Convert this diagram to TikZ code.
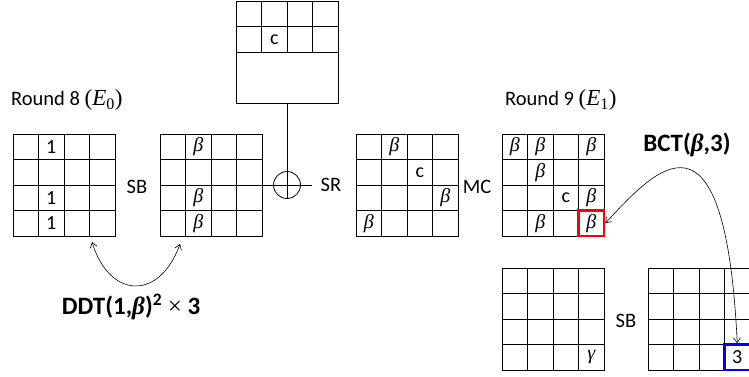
\documentclass[tikz,border=0pt]{standalone}
\usepackage{fontspec}
\setmainfont{Carlito}
\newfontfamily\grk{Liberation Serif}
\usetikzlibrary{calc,arrows.meta}
\newcommand\bet{{\grk\itshape β}}
\newcommand\rlab[1]{{\grk(\itshape E\/\upshape\textsubscript{#1})}}
\tikzset{
  gridbox/.style={draw,line width=1pt,minimum width=102pt,minimum height=102pt,inner sep=0pt,outer sep=0pt},
  gridline/.style={line width=1pt},
  celltext/.style={inner sep=0pt,font=\fontsize{20}{22}\selectfont},
  lbl/.style={inner sep=0pt,font=\fontsize{20.5}{23}\selectfont},
  biglbl/.style={inner sep=0pt,font=\fontsize{25}{28}\selectfont\bfseries},
  conn/.style={line width=0.6pt,{Straight Barb[length=5pt,width=7pt]}-{Straight Barb[length=5pt,width=7pt]}},
  hilite/.style={line width=2.5pt,minimum width=25.5pt,minimum height=25.5pt,inner sep=0pt,font=\fontsize{20}{22}\selectfont}
}
\newcommand\mygrid[3]{%
  \node[gridbox,anchor=north west] (#1) at (#2,#3) {};
  \foreach \k in {1,2,3}{%
    \draw[gridline] ($(#1.north west)+(\k*25.5,0)$) -- ++(0,102);
    \draw[gridline] ($(#1.north west)+(0,\k*25.5)$) -- ++(102,0);
  }}
\newcommand\cellt[4]{\node[celltext] (#1-#2-#3) at ($(#1.north west)+(#2*25.5+12.75,#3*25.5+12.75)$) {#4};}
\begin{document}
\begin{tikzpicture}[x=1pt,y=-1pt]
\clip (0,0) rectangle (749,376);
% top box
\node[gridbox,anchor=north west] (top) at (236,1) {};
\foreach \k in {1,2,3}{\draw[gridline] ($(top.north west)+(\k*25.5,0)$) -- ++(0,51);}
\draw[gridline] ($(top.north west)+(0,25.5)$) -- ++(102,0);
\draw[gridline] ($(top.north west)+(0,51)$) -- ++(102,0);
\cellt{top}{1}{1}{c}
% grids
\mygrid{g1}{13}{134}
\mygrid{g2}{160}{134}
\mygrid{g3}{356}{134}
\mygrid{g4}{502}{134}
\mygrid{g5}{502}{268}
\mygrid{g6}{648}{268}
% contents
\cellt{g1}{1}{0}{1}\cellt{g1}{1}{2}{1}\cellt{g1}{1}{3}{1}
\cellt{g2}{1}{0}{\bet}\cellt{g2}{1}{2}{\bet}\cellt{g2}{1}{3}{\bet}
\cellt{g3}{1}{0}{\bet}\cellt{g3}{2}{1}{c}\cellt{g3}{3}{2}{\bet}\cellt{g3}{0}{3}{\bet}
\cellt{g4}{0}{0}{\bet}\cellt{g4}{1}{0}{\bet}\cellt{g4}{3}{0}{\bet}
\cellt{g4}{1}{1}{\bet}
\cellt{g4}{2}{2}{c}\cellt{g4}{3}{2}{\bet}
\cellt{g4}{1}{3}{\bet}
\cellt{g5}{3}{3}{{\grk\itshape γ}}
\node[hilite,draw=red] (red) at ($(g4.north west)+(3*25.5+12.75,3*25.5+12.75)$) {\bet};
\node[hilite,draw=blue] (blue) at ($(g6.north west)+(3*25.5+12.75,3*25.5+12.75)$) {3};
% xor
\node[draw,circle,line width=0.8pt,minimum size=27pt,inner sep=0pt] (xor) at (287,185) {};
\coordinate (xe) at (312,185);
\draw[line width=0.8pt] (top.south) -- (xor.south);
\draw[line width=0.8pt] (g2.east) -- (xe);
% labels
\node[lbl,anchor=west] (r8) at (11,100) {Round 8 {\fontsize{23}{25}\selectfont\rlab{0}}};
\node[lbl,anchor=west] (r9) at (505,100) {Round 9 {\fontsize{23}{25}\selectfont\rlab{1}}};
\node[lbl] (sb1) at (137,187) {SB};
\node[lbl] (sr) at (331,185) {SR};
\node[lbl] (mc) at (477,187) {MC};
\node[lbl] (sb2) at (626,321) {SB};
\node[biglbl] (ddt) at (131,307) {DDT(1,{\grk\bfseries\itshape β})\textsuperscript{2} {\mdseries\grk ×} 3};
\node[biglbl] (bct) at (687,145) {BCT({\grk\bfseries\itshape β},3)};
% arrows
\coordinate (d1) at (92,242);
\coordinate (d2) at (180,244);
\draw[conn] (d1) .. controls (110,300) and (160,300) .. (d2);
\draw[conn] (red.east) .. controls (655,170) and (725,90) .. (blue.north);
\end{tikzpicture}
\end{document}
